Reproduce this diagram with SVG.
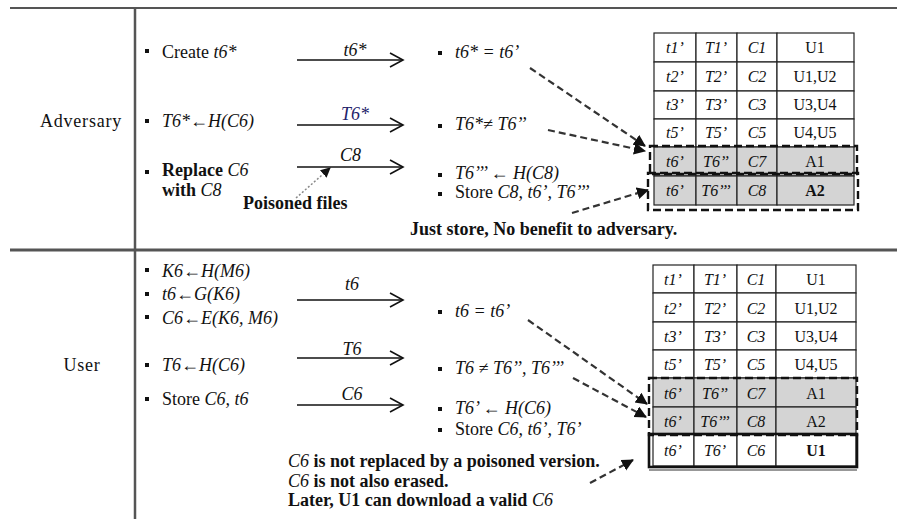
<svg xmlns="http://www.w3.org/2000/svg" width="900" height="519" viewBox="0 0 900 519" font-family="'Liberation Serif', 'DejaVu Serif', serif">
<defs>
<style>
text{font-family:'Liberation Serif','DejaVu Serif',serif;fill:#111}
.t{font-size:18px}
.s{font-size:16px}
.i{font-style:italic}
.b{font-weight:bold}
.m{text-anchor:middle}
.frame{stroke:#555;fill:none}
.arr{stroke:#111;stroke-width:1.6;fill:none;marker-end:url(#chev)}
.dash{stroke:#333;stroke-width:2.2;stroke-dasharray:7 4;fill:none;marker-end:url(#tri)}
.cell{fill:#fff;stroke:#222;stroke-width:1.2}
.gray{fill:#d4d4d4;stroke:#222;stroke-width:1.2}
.bx{fill:none;stroke:#111;stroke-width:2.4;stroke-dasharray:8 4}
.bul{fill:#111}
</style>
<marker id="chev" markerUnits="userSpaceOnUse" markerWidth="16" markerHeight="18" refX="14" refY="8" orient="auto">
<path d="M1,1 L14,8 L1,15" fill="none" stroke="#111" stroke-width="1.6"/>
</marker>
<marker id="tri" markerUnits="userSpaceOnUse" markerWidth="14" markerHeight="14" refX="11" refY="6" orient="auto">
<path d="M0,0 L12,6 L0,12 Z" fill="#111"/>
</marker>
<marker id="tri2" markerUnits="userSpaceOnUse" markerWidth="12" markerHeight="12" refX="9" refY="5" orient="auto">
<path d="M0,0 L10,5 L0,10 Z" fill="#111"/>
</marker>
</defs>
<rect width="900" height="519" fill="#fff"/>

<g id="frame">
<line class="frame" x1="10" y1="8" x2="897" y2="8" stroke-width="2"/>
<line class="frame" x1="10" y1="250" x2="897" y2="250" stroke-width="3" stroke="#777"/>
<line class="frame" x1="135" y1="8" x2="135" y2="519" stroke-width="2.5"/>
</g>

<g id="adversary-label"><text class="t" x="81" y="127" text-anchor="middle" letter-spacing="0.8">Adversary</text></g>
<g id="user-label"><text class="t" x="82" y="371" text-anchor="middle" letter-spacing="0.8">User</text></g>

<g id="adv-left">
<rect class="bul" x="145" y="49" width="4" height="4"/>
<text class="t" x="162" y="58">Create <tspan class="i">t6*</tspan></text>
<rect class="bul" x="145" y="119" width="4" height="4"/>
<text class="t i" x="162" y="127">T6*←H(C6)</text>
<rect class="bul" x="145" y="170" width="4" height="4"/>
<text class="t" x="162" y="176"><tspan class="b">Replace</tspan> <tspan class="i">C6</tspan></text>
<text class="t" x="162" y="196"><tspan class="b">with</tspan> <tspan class="i">C8</tspan></text>
<text class="t b" x="243" y="209">Poisoned files</text>
</g>

<g id="adv-right">
<rect class="bul" x="438" y="51" width="4" height="4"/>
<text class="t i" x="455" y="58">t6* = t6’</text>
<rect class="bul" x="438" y="124" width="4" height="4"/>
<text class="t i" x="455" y="130">T6*≠ T6’’</text>
<rect class="bul" x="438" y="173" width="4" height="4"/>
<text class="t i" x="455" y="179">T6’’’ ← H(C8)</text>
<rect class="bul" x="438" y="192" width="4" height="4"/>
<text class="t" x="455" y="198">Store <tspan class="i">C8, t6’, T6’’’</tspan></text>
<text class="t b" x="410" y="235">Just store, No benefit to adversary.</text>
</g>

<g id="adv-table">
<rect class="cell" x="654" y="33" width="42" height="29"/><rect class="cell" x="696" y="33" width="41" height="29"/><rect class="cell" x="737" y="33" width="40" height="29"/><rect class="cell" x="777" y="33" width="77" height="29"/>
<rect class="cell" x="654" y="62" width="42" height="29"/><rect class="cell" x="696" y="62" width="41" height="29"/><rect class="cell" x="737" y="62" width="40" height="29"/><rect class="cell" x="777" y="62" width="77" height="29"/>
<rect class="cell" x="654" y="91" width="42" height="28"/><rect class="cell" x="696" y="91" width="41" height="28"/><rect class="cell" x="737" y="91" width="40" height="28"/><rect class="cell" x="777" y="91" width="77" height="28"/>
<rect class="cell" x="654" y="119" width="42" height="28"/><rect class="cell" x="696" y="119" width="41" height="28"/><rect class="cell" x="737" y="119" width="40" height="28"/><rect class="cell" x="777" y="119" width="77" height="28"/>
<rect class="gray" x="654" y="147" width="42" height="29"/><rect class="gray" x="696" y="147" width="41" height="29"/><rect class="gray" x="737" y="147" width="40" height="29"/><rect class="gray" x="777" y="147" width="77" height="29"/>
<rect class="gray" x="654" y="176" width="42" height="29"/><rect class="gray" x="696" y="176" width="41" height="29"/><rect class="gray" x="737" y="176" width="40" height="29"/><rect class="gray" x="777" y="176" width="77" height="29"/>
<text class="s i m" x="675" y="53">t1’</text><text class="s i m" x="716" y="53">T1’</text><text class="s i m" x="757" y="53">C1</text><text class="s m" x="815" y="53">U1</text>
<text class="s i m" x="675" y="82">t2’</text><text class="s i m" x="716" y="82">T2’</text><text class="s i m" x="757" y="82">C2</text><text class="s m" x="815" y="82">U1,U2</text>
<text class="s i m" x="675" y="110">t3’</text><text class="s i m" x="716" y="110">T3’</text><text class="s i m" x="757" y="110">C3</text><text class="s m" x="815" y="110">U3,U4</text>
<text class="s i m" x="675" y="138">t5’</text><text class="s i m" x="716" y="138">T5’</text><text class="s i m" x="757" y="138">C5</text><text class="s m" x="815" y="138">U4,U5</text>
<text class="s i m" x="675" y="167">t6’</text><text class="s i m" x="716" y="167">T6’’</text><text class="s i m" x="757" y="167">C7</text><text class="s m" x="815" y="167">A1</text>
<text class="s i m" x="675" y="196">t6’</text><text class="s i m" x="716" y="196">T6’’’</text><text class="s i m" x="757" y="196">C8</text><text class="s b m" x="815" y="196">A2</text>
<rect class="bx" x="650" y="146" width="207" height="28"/>
<rect class="bx" x="648" y="173" width="210" height="37"/>
</g>

<g id="user-left">
<rect class="bul" x="145" y="268" width="4" height="4"/>
<text class="t i" x="162" y="277">K6←H(M6)</text>
<rect class="bul" x="145" y="292" width="4" height="4"/>
<text class="t i" x="162" y="300">t6←G(K6)</text>
<rect class="bul" x="145" y="315" width="4" height="4"/>
<text class="t i" x="162" y="324">C6←E(K6, M6)</text>
<rect class="bul" x="145" y="363" width="4" height="4"/>
<text class="t i" x="162" y="371">T6←H(C6)</text>
<rect class="bul" x="145" y="397" width="4" height="4"/>
<text class="t" x="162" y="405">Store <tspan class="i">C6, t6</tspan></text>
</g>

<g id="user-right">
<rect class="bul" x="438" y="310" width="4" height="4"/>
<text class="t i" x="455" y="317">t6 = t6’</text>
<rect class="bul" x="438" y="367" width="4" height="4"/>
<text class="t i" x="455" y="374">T6 ≠ T6’’, T6’’’</text>
<rect class="bul" x="438" y="407" width="4" height="4"/>
<text class="t i" x="455" y="414">T6’ ← H(C6)</text>
<rect class="bul" x="438" y="428" width="4" height="4"/>
<text class="t" x="455" y="435">Store <tspan class="i">C6, t6’, T6’</tspan></text>
<text class="t b" x="288" y="467"><tspan class="i" font-weight="normal">C6</tspan> is not replaced by a poisoned version.</text>
<text class="t b" x="288" y="487"><tspan class="i" font-weight="normal">C6</tspan> is not also erased.</text>
<text class="t b" x="288" y="506">Later, U1 can download a valid <tspan class="i" font-weight="normal">C6</tspan></text>
</g>

<g id="user-table">
<rect class="cell" x="653" y="265" width="41" height="28"/><rect class="cell" x="694" y="265" width="43" height="28"/><rect class="cell" x="737" y="265" width="39" height="28"/><rect class="cell" x="776" y="265" width="80" height="28"/>
<rect class="cell" x="653" y="293" width="41" height="29"/><rect class="cell" x="694" y="293" width="43" height="29"/><rect class="cell" x="737" y="293" width="39" height="29"/><rect class="cell" x="776" y="293" width="80" height="29"/>
<rect class="cell" x="653" y="322" width="41" height="28"/><rect class="cell" x="694" y="322" width="43" height="28"/><rect class="cell" x="737" y="322" width="39" height="28"/><rect class="cell" x="776" y="322" width="80" height="28"/>
<rect class="cell" x="653" y="350" width="41" height="28"/><rect class="cell" x="694" y="350" width="43" height="28"/><rect class="cell" x="737" y="350" width="39" height="28"/><rect class="cell" x="776" y="350" width="80" height="28"/>
<rect class="gray" x="653" y="378" width="41" height="29"/><rect class="gray" x="694" y="378" width="43" height="29"/><rect class="gray" x="737" y="378" width="39" height="29"/><rect class="gray" x="776" y="378" width="80" height="29"/>
<rect class="gray" x="653" y="407" width="41" height="27"/><rect class="gray" x="694" y="407" width="43" height="27"/><rect class="gray" x="737" y="407" width="39" height="27"/><rect class="gray" x="776" y="407" width="80" height="27"/>
<rect class="cell" x="653" y="434" width="41" height="32"/><rect class="cell" x="694" y="434" width="43" height="32"/><rect class="cell" x="737" y="434" width="39" height="32"/><rect class="cell" x="776" y="434" width="80" height="32"/>
<text class="s i m" x="673" y="285">t1’</text><text class="s i m" x="715" y="285">T1’</text><text class="s i m" x="756" y="285">C1</text><text class="s m" x="816" y="285">U1</text>
<text class="s i m" x="673" y="314">t2’</text><text class="s i m" x="715" y="314">T2’</text><text class="s i m" x="756" y="314">C2</text><text class="s m" x="816" y="314">U1,U2</text>
<text class="s i m" x="673" y="342">t3’</text><text class="s i m" x="715" y="342">T3’</text><text class="s i m" x="756" y="342">C3</text><text class="s m" x="816" y="342">U3,U4</text>
<text class="s i m" x="673" y="370">t5’</text><text class="s i m" x="715" y="370">T5’</text><text class="s i m" x="756" y="370">C5</text><text class="s m" x="816" y="370">U4,U5</text>
<text class="s i m" x="673" y="399">t6’</text><text class="s i m" x="715" y="399">T6’’</text><text class="s i m" x="756" y="399">C7</text><text class="s m" x="816" y="399">A1</text>
<text class="s i m" x="673" y="427">t6’</text><text class="s i m" x="715" y="427">T6’’’</text><text class="s i m" x="756" y="427">C8</text><text class="s m" x="816" y="427">A2</text>
<text class="s i m" x="673" y="456">t6’</text><text class="s i m" x="715" y="456">T6’</text><text class="s i m" x="756" y="456">C6</text><text class="s b m" x="816" y="456">U1</text>
<rect class="bx" x="649" y="378" width="208" height="57"/>
<rect x="649" y="434" width="208" height="33" fill="none" stroke="#111" stroke-width="2.6"/>
<line x1="649" y1="470" x2="857" y2="470" stroke="#333" stroke-width="1.2"/>
</g>

<g id="connectors">
<line class="arr" x1="297" y1="60" x2="403" y2="60"/>
<text class="t i m" x="355" y="56">t6*</text>
<line class="arr" x1="297" y1="125" x2="403" y2="125"/>
<text class="t i m" x="355" y="120" style="fill:#22226a">T6*</text>
<line class="arr" x1="297" y1="167" x2="403" y2="167"/>
<text class="t i" x="340" y="161">C8</text>
<line x1="296" y1="198" x2="330" y2="168" stroke="#888" stroke-width="1.5" stroke-dasharray="2 2" marker-end="url(#tri2)"/>

<line class="dash" x1="530" y1="68" x2="645" y2="146"/>
<line class="dash" x1="548" y1="130" x2="645" y2="151"/>
<line class="dash" x1="572" y1="213" x2="648" y2="190"/>

<line class="arr" x1="297" y1="300" x2="403" y2="300"/>
<text class="t i m" x="352" y="290">t6</text>
<line class="arr" x1="297" y1="358" x2="403" y2="358"/>
<text class="t i m" x="352" y="355">T6</text>
<line class="arr" x1="297" y1="405" x2="403" y2="405"/>
<text class="t i m" x="352" y="400">C6</text>

<line class="dash" x1="528" y1="320" x2="647" y2="404"/>
<line class="dash" x1="573" y1="378" x2="646" y2="417"/>
<line class="dash" x1="590" y1="483" x2="633" y2="460"/>
</g>
</svg>
